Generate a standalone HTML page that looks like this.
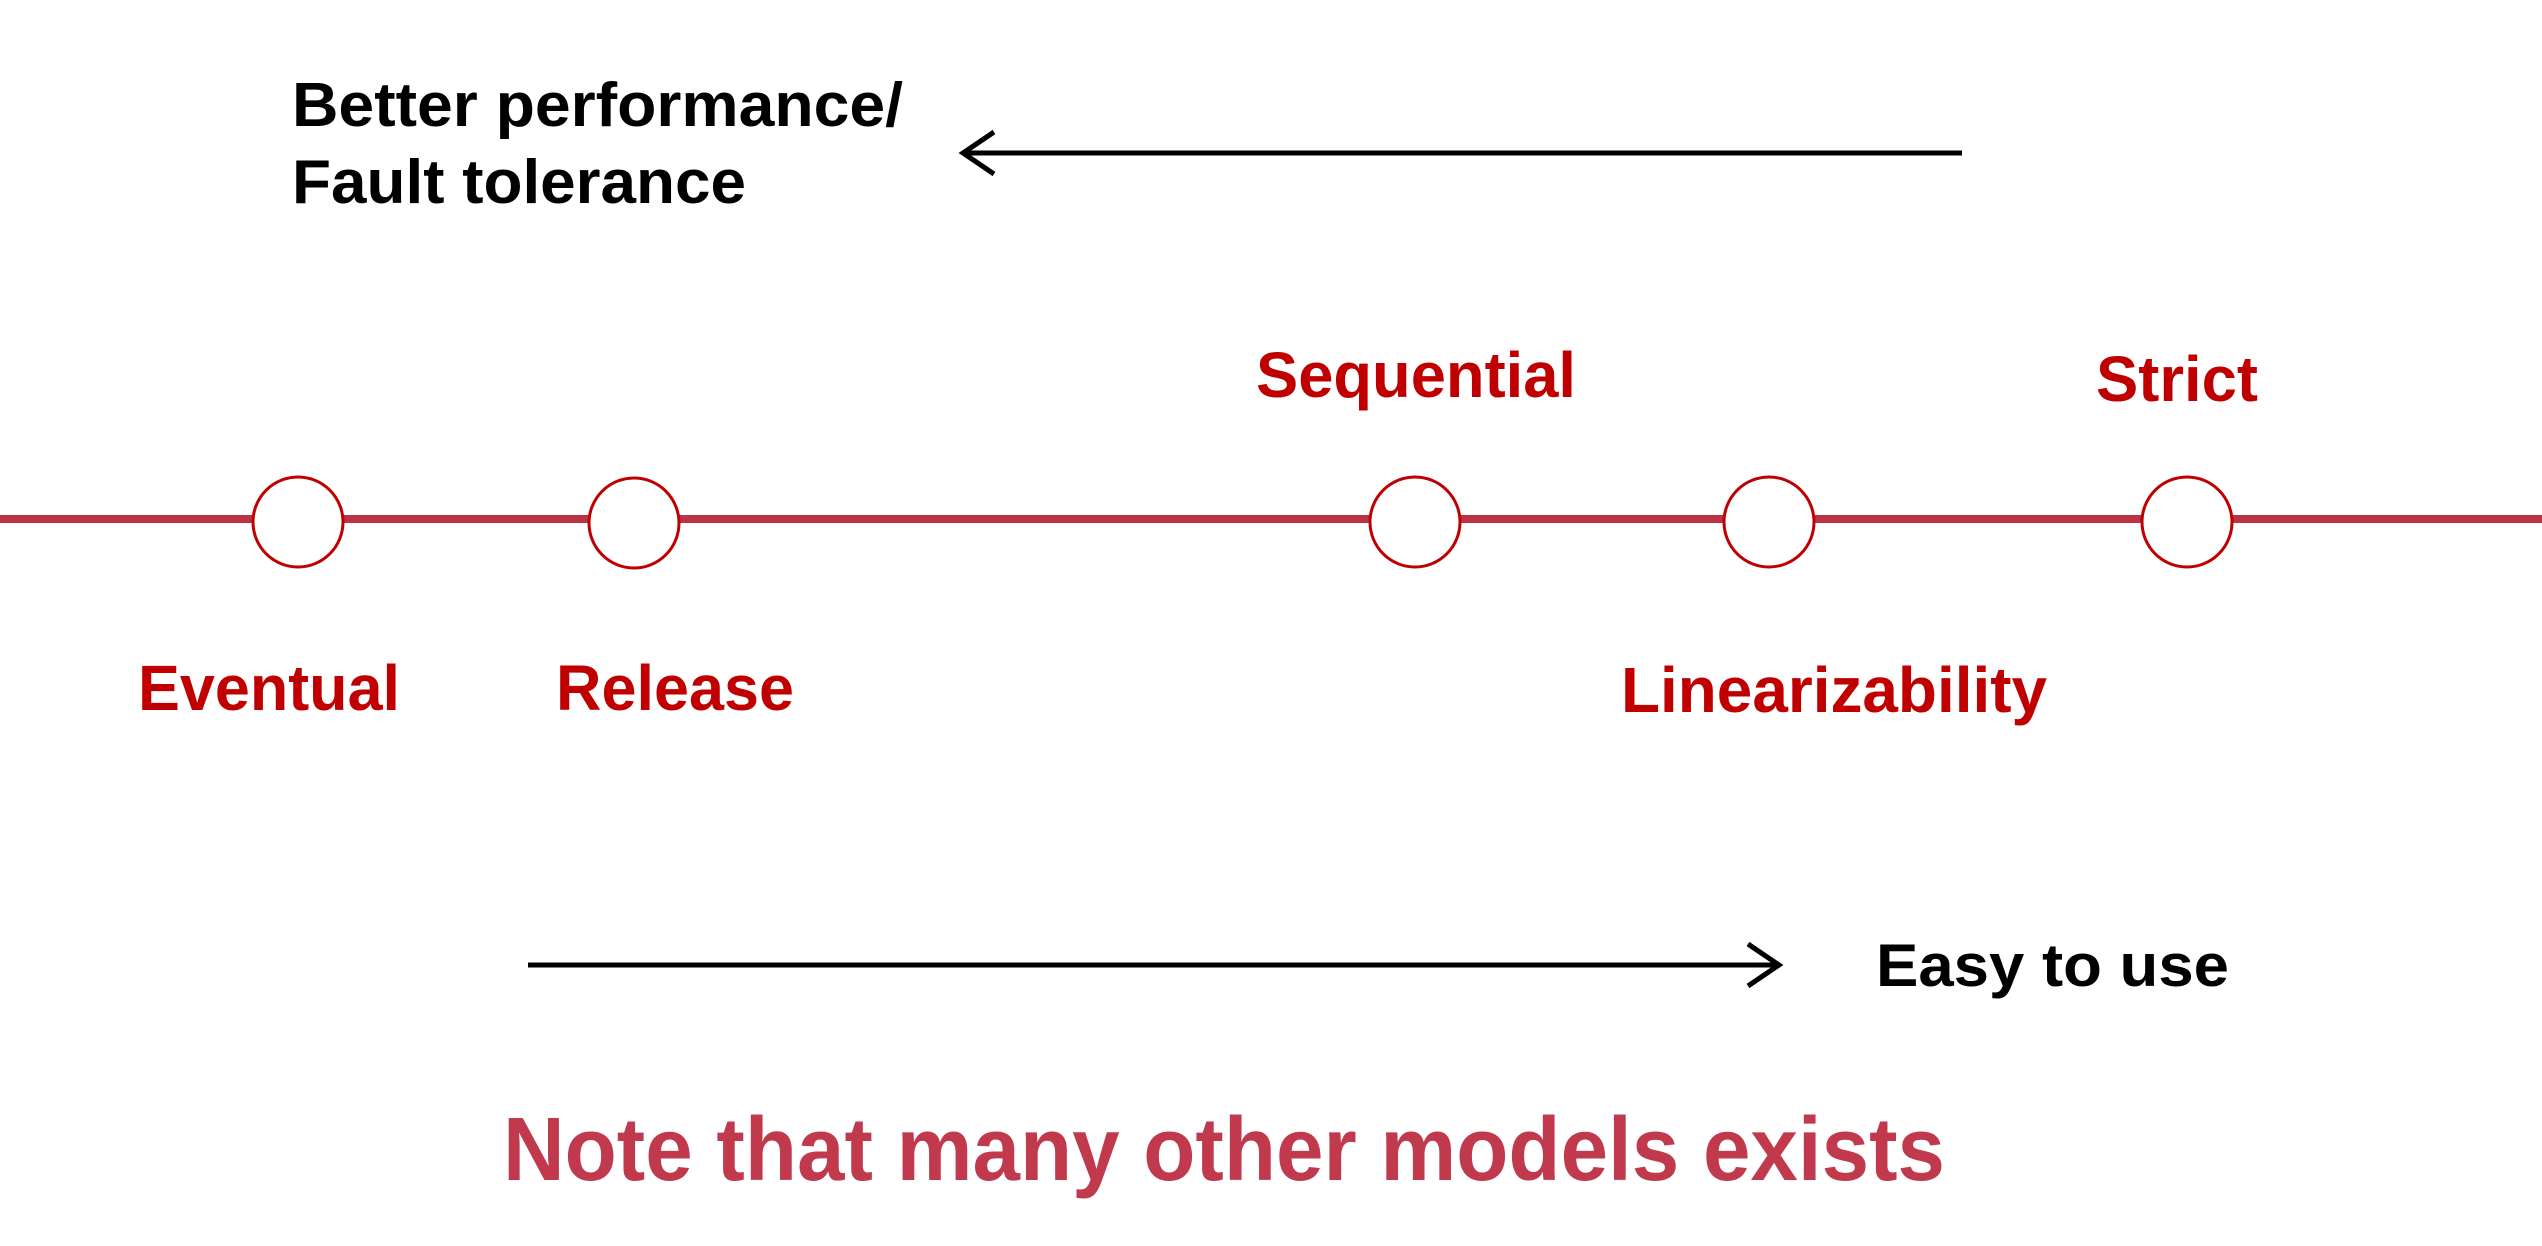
<!DOCTYPE html>
<html><head><meta charset="utf-8"><style>html,body{margin:0;padding:0;background:#fff}svg{display:block}</style></head>
<body>
<svg width="2542" height="1246" viewBox="0 0 2542 1246" xmlns="http://www.w3.org/2000/svg" font-family="Liberation Sans, Arial, sans-serif" font-weight="bold">
<rect width="2542" height="1246" fill="#fff"/>
<text x="292" y="126" font-size="62" fill="#000" textLength="611" lengthAdjust="spacingAndGlyphs">Better performance/</text>
<text x="292" y="203" font-size="62" fill="#000" textLength="454" lengthAdjust="spacingAndGlyphs">Fault tolerance</text>
<line x1="1962" y1="153" x2="963" y2="153" stroke="#000" stroke-width="5"/>
<polyline points="994,132 963,153 994,174" fill="none" stroke="#000" stroke-width="5"/>
<line x1="528" y1="965" x2="1778" y2="965" stroke="#000" stroke-width="5"/>
<polyline points="1748,944 1779,965 1748,986" fill="none" stroke="#000" stroke-width="5"/>
<text x="1876" y="986" font-size="60" fill="#000" textLength="353" lengthAdjust="spacingAndGlyphs">Easy to use</text>
<line x1="0" y1="519" x2="2542" y2="519" stroke="#be3246" stroke-width="8"/>
<g fill="#fff" stroke="#c00000" stroke-width="3">
<circle cx="298" cy="522" r="45"/><circle cx="634" cy="523" r="45"/><circle cx="1415" cy="522" r="45"/><circle cx="1769" cy="522" r="45"/><circle cx="2187" cy="522" r="45"/>
</g>
<g fill="#c00000" font-size="64">
<text x="1256" y="397" textLength="320" lengthAdjust="spacingAndGlyphs">Sequential</text>
<text x="2096" y="401" textLength="162" lengthAdjust="spacingAndGlyphs">Strict</text>
<text x="138" y="710" textLength="262" lengthAdjust="spacingAndGlyphs">Eventual</text>
<text x="556" y="710" textLength="238" lengthAdjust="spacingAndGlyphs">Release</text>
<text x="1621" y="712" textLength="426" lengthAdjust="spacingAndGlyphs">Linearizability</text>
</g>
<text x="503" y="1180" font-size="90" fill="#c0394d" textLength="1442" lengthAdjust="spacingAndGlyphs">Note that many other models exists</text>
</svg>
</body></html>
